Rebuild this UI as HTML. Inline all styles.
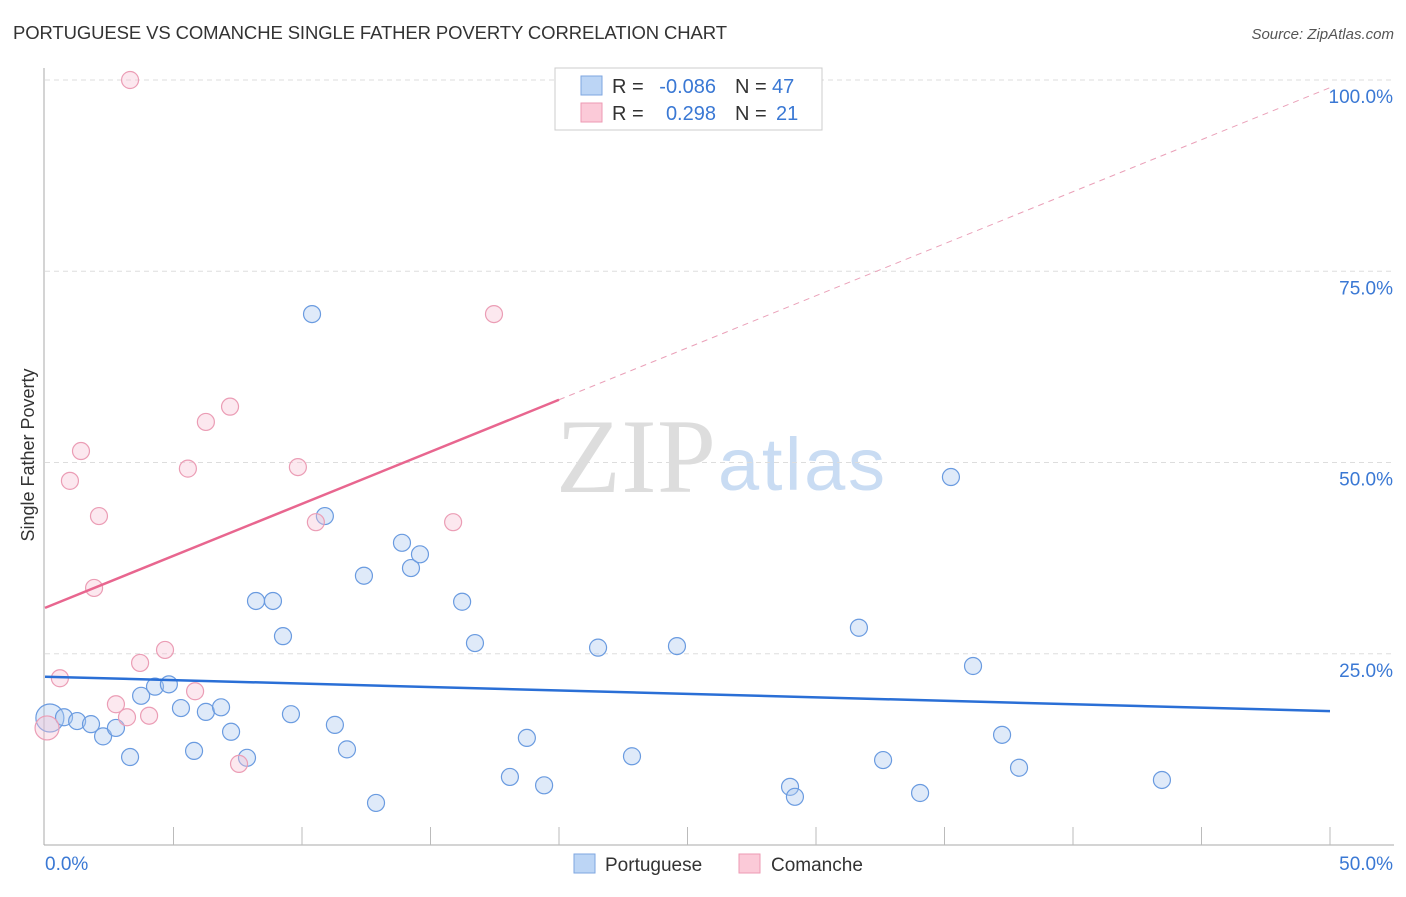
<!DOCTYPE html>
<html><head><meta charset="utf-8"><style>
body{margin:0;background:#fff;font-family:"Liberation Sans",sans-serif;}
</style></head><body>
<svg width="1406" height="892" xmlns="http://www.w3.org/2000/svg" style="font-family:'Liberation Sans',sans-serif">
<text x="13" y="39" font-size="18.5" fill="#333" textLength="714">PORTUGUESE VS COMANCHE SINGLE FATHER POVERTY CORRELATION CHART</text>
<text x="1394" y="39" font-size="15" fill="#555" text-anchor="end" font-style="italic">Source: ZipAtlas.com</text>
<text x="716" y="492" font-size="106" fill="#ddd" text-anchor="end" font-family="Liberation Serif,serif" textLength="160">ZIP</text>
<text x="718" y="490" font-size="74" fill="#c9dcf3" textLength="167">atlas</text>
<g id="grid"></g>
<g id="axes"></g>
<g id="marks"></g>
<text x="34" y="455" font-size="18" fill="#333" text-anchor="middle" transform="rotate(-90 34 455)">Single Father Poverty</text>
<g>
<rect x="555" y="68" width="267" height="62" fill="#fff" stroke="#ccc"/>
<rect x="581" y="76" width="21" height="19" fill="#bcd5f5" stroke="#7ea6e0"/>
<rect x="581" y="103" width="21" height="19" fill="#fbcad8" stroke="#ee9ab3"/>
<text x="612" y="93" font-size="20" fill="#333">R = </text><text x="716" y="93" font-size="20" fill="#3a78d4" text-anchor="end">-0.086</text>
<text x="735" y="93" font-size="20" fill="#333">N = </text><text x="772" y="93" font-size="20" fill="#3a78d4">47</text>
<text x="612" y="120" font-size="20" fill="#333">R = </text><text x="716" y="120" font-size="20" fill="#3a78d4" text-anchor="end">0.298</text>
<text x="735" y="120" font-size="20" fill="#333">N = </text><text x="776" y="120" font-size="20" fill="#3a78d4">21</text>
</g>
<g>
<rect x="574" y="854" width="21" height="19" fill="#bcd5f5" stroke="#7ea6e0"/>
<text x="605" y="871" font-size="19" fill="#333">Portuguese</text>
<rect x="739" y="854" width="21" height="19" fill="#fbcad8" stroke="#ee9ab3"/>
<text x="771" y="871" font-size="19" fill="#333">Comanche</text>
</g>
</svg>
<script>
const blueX=[0.19,0.74,1.25,1.79,2.26,2.76,3.31,3.74,4.28,4.82,5.29,5.80,6.26,6.85,7.24,7.86,8.21,8.87,9.26,9.57,10.39,10.89,11.28,11.75,12.41,12.88,13.89,14.24,14.59,16.23,16.73,18.09,18.75,19.42,21.52,22.84,24.59,28.99,29.18,31.67,32.61,34.05,35.25,36.11,37.24,37.90,43.46];
const blueY=[16.6,16.7,16.2,15.8,14.2,15.3,11.5,19.5,20.7,21.0,17.9,12.3,17.4,18.0,14.8,11.4,31.9,31.9,27.3,17.1,69.4,43.0,15.7,12.5,35.2,5.5,39.5,36.2,38.0,31.8,26.4,8.9,14.0,7.8,25.8,11.6,26.0,7.6,6.3,28.4,11.1,6.8,48.1,23.4,14.4,10.1,8.5];
const pinkX=[0.08,0.58,0.97,1.40,1.91,2.10,2.76,3.19,3.70,4.05,4.67,5.56,5.84,6.26,7.20,7.55,3.31,9.84,10.54,15.88,17.47];
const pinkY=[15.3,21.8,47.6,51.5,33.6,43.0,18.4,16.7,23.8,16.9,25.5,49.2,20.1,55.3,57.3,10.6,100,49.4,42.2,42.2,69.4];
const blueTrend=[22.0,17.5];
const pinkTrend=[31.0,99.0];
const yTicks=[25,50,75,100];
const xTicks=[0,5,10,15,20,25,30,35,40,45,50];
const NS="http://www.w3.org/2000/svg";
const sx=v=>45+v*25.7, sy=v=>845-v*7.65;
function mk(p,t,a){const e=document.createElementNS(NS,t);for(const k in a)e.setAttribute(k,a[k]);document.getElementById(p).appendChild(e);return e;}
yTicks.forEach(t=>{
 const l=mk('grid','line',{x1:45,x2:1394,y1:sy(t),y2:sy(t),stroke:'#ddd','stroke-dasharray':'5,4'});
 
 
 const tx=mk('grid','text',{x:1393,y:sy(t)+23,'font-size':19,fill:'#3a78d4','text-anchor':'end'});
 tx.textContent=t.toFixed(1)+'%';
 
 
});
let a=mk('axes','line',{x1:44,x2:44,y1:68,y2:845,stroke:'#aaa'});


a=mk('axes','line',{x1:44,x2:1394,y1:845,y2:845,stroke:'#aaa'});


xTicks.forEach(t=>{if(t===0)return;const l=mk('axes','line',{x1:sx(t),x2:sx(t),y1:827,y2:845,stroke:'#bbb'});
 
 });
[[0,'start',45],[50,'end',1393]].forEach(([v,anc,x])=>{const tx=mk('axes','text',{x:x,y:870,'font-size':19,fill:'#3a78d4','text-anchor':anc});tx.textContent=v.toFixed(1)+'%';
 
 });
blueX.forEach((x,i)=>{const c=mk('marks','circle',{cx:sx(x),cy:sy(blueY[i]),r:i===0?14:8.5,fill:'rgba(170,200,240,0.38)',stroke:'#6a9be0','stroke-width':1.2});
 
 });
pinkX.forEach((x,i)=>{const c=mk('marks','circle',{cx:sx(x),cy:sy(pinkY[i]),r:i===0?12:8.5,fill:'rgba(248,195,212,0.38)',stroke:'#eb9db5','stroke-width':1.2});
 
 });
let t=mk('marks','line',{x1:sx(0),y1:sy(blueTrend[0]),x2:sx(50),y2:sy(blueTrend[1]),stroke:'#2a6fd6','stroke-width':2.5});


const pm=(pinkTrend[1]-pinkTrend[0])/50, pAt=v=>pinkTrend[0]+pm*v;
t=mk('marks','line',{x1:sx(0),y1:sy(pAt(0)),x2:sx(20),y2:sy(pAt(20)),stroke:'#e8668f','stroke-width':2.5});


t=mk('marks','line',{x1:sx(20),y1:sy(pAt(20)),x2:sx(50),y2:sy(pAt(50)),stroke:'#eaa0b8','stroke-width':1,'stroke-dasharray':'6,5'});


</script>
</body></html>
